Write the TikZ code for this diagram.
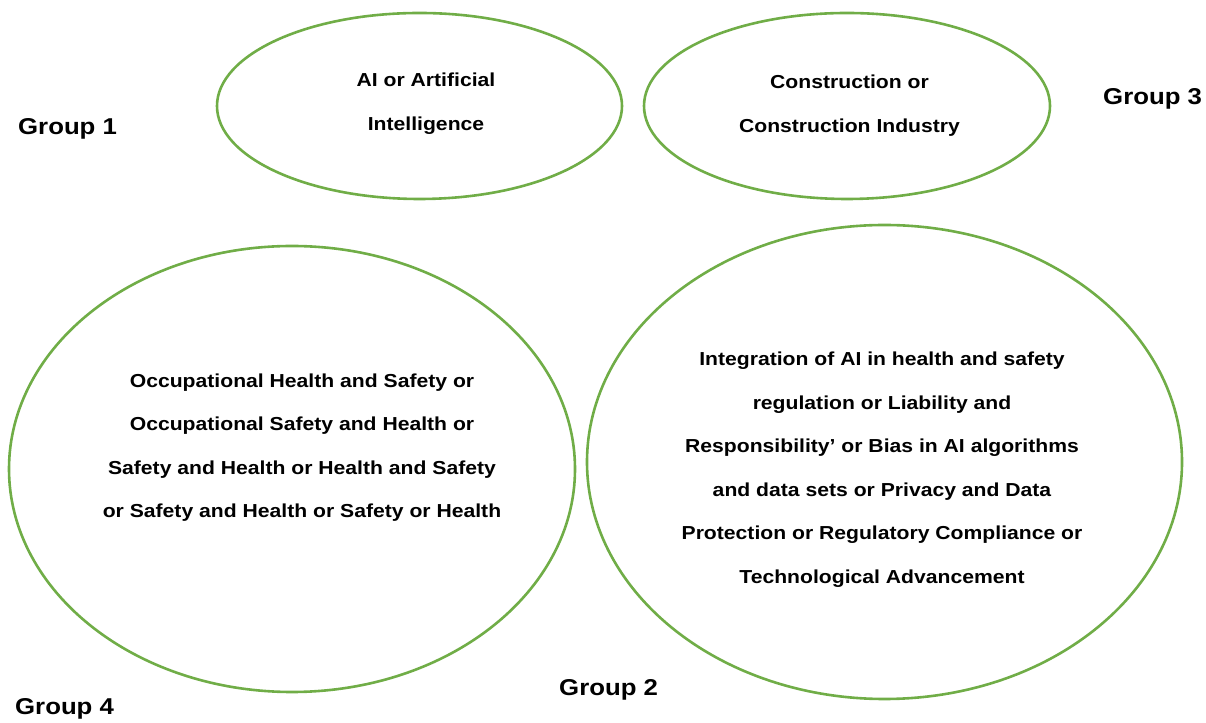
\documentclass[tikz,border=0pt]{standalone}
\usepackage{tikz}
\usepackage{fontspec}
\usepackage{color}
\usetikzlibrary{shapes.geometric}
\setmainfont{Liberation Sans}[FakeStretch=1.125]
\definecolor{leafgreen}{RGB}{112,173,71}

\begin{document}
\begin{tikzpicture}[x=1pt,y=1pt,
  bubble/.style={draw=leafgreen, line width=2.6pt, ellipse, inner sep=0pt},
  txt/.style={align=center, font=\bfseries\fontsize{18.8}{43.5}\selectfont},
  grp/.style={anchor=base west, inner sep=0pt, font=\bfseries\fontsize{22.9}{26}\selectfont}]
\useasboundingbox (0,0) rectangle (1206,722);
\node[bubble, minimum width=405pt, minimum height=186pt] (ai) at (419.5,616) {};
\node[bubble, minimum width=406pt, minimum height=186pt] (cons) at (847,616) {};
\node[bubble, minimum width=566pt, minimum height=446pt] (ohs) at (292,253) {};
\node[bubble, minimum width=595pt, minimum height=474pt] (integ) at (884.5,260) {};
\node[txt] (tai) at (426,618.1) {AI or Artificial\\Intelligence};
\node[txt] (tcons) at (849.5,616.1) {Construction or\\Construction Industry};
\node[txt] (tohs) at (302,274.6) {Occupational Health and Safety or\\Occupational Safety and Health or\\Safety and Health or Health and Safety\\or Safety and Health or Safety or Health};
\node[txt] (tinteg) at (882,252.1) {Integration of AI in health and safety\\regulation or Liability and\\Responsibility’ or Bias in AI algorithms\\and data sets or Privacy and Data\\Protection or Regulatory Compliance or\\Technological Advancement};
\node[grp] (g1) at (18,587) {Group 1};
\node[grp] (g3) at (1103,617) {Group 3};
\node[grp] (g2) at (559,27) {Group 2};
\node[grp] (g4) at (15,7) {Group 4};
\end{tikzpicture}
\end{document}
